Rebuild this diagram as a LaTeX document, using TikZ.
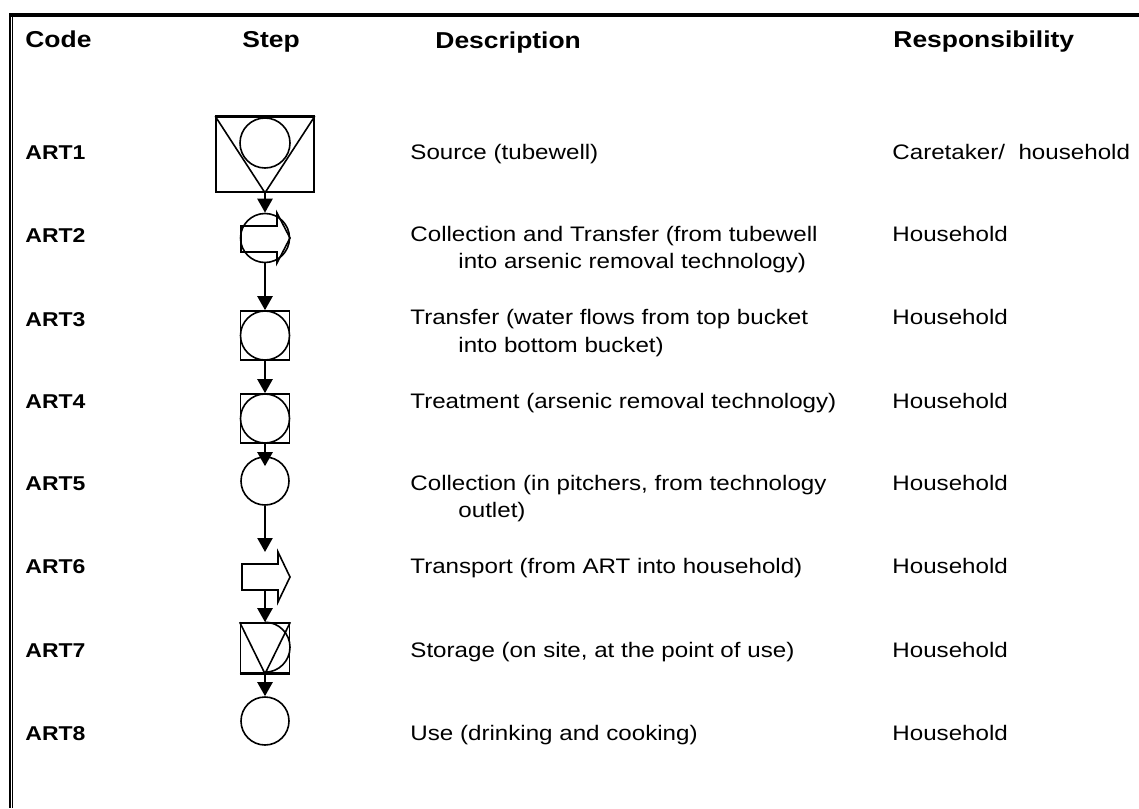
\documentclass[tikz,border=0pt]{standalone}
\usepackage{fontspec}
\setmainfont{Liberation Sans}[FakeStretch=1.15]
\usetikzlibrary{arrows.meta}

\begin{document}
\begin{tikzpicture}[x=0.5pt, y=-0.5pt,
    txt/.style={anchor=base west, inner sep=0pt, font=\fontsize{10.5}{13}\selectfont},
    head/.style={txt, font=\fontsize{11.5}{14}\selectfont\bfseries},
    code/.style={txt, font=\fontsize{10}{12}\selectfont\bfseries},
    ring/.style={draw, circle, inner sep=0pt, minimum size=#1, line width=0.8pt},
    ring/.default=24pt,
    box/.style={draw, rectangle, inner sep=0pt, minimum width=24.5pt, minimum height=24.5pt, line width=0.8pt},
    flow/.style={-{Triangle[length=7pt, width=7.5pt]}, line width=1.2pt}]
    \useasboundingbox (0,0) rectangle (1139,808);
    % frame
    \draw[line width=1.7pt] (9,15) -- (1139,15);
    \draw[line width=0.8pt] (10.2,14) -- (10.2,808);
    \draw[line width=0.5pt] (12.6,16) -- (12.6,808);
    % headings
    \node[head] (hcode) at (25,48) {Code};
    \node[head] (hstep) at (242,48) {Step};
    \node[head] (hdesc) at (435,49) {Description};
    \node[head] (hresp) at (893,48) {Responsibility};
    % steps
    \node[draw, rectangle, inner sep=0pt, minimum width=49pt, minimum height=37.5pt, line width=0.8pt] (s1) at (265,154.5) {};
    \draw[line width=1.2pt] (s1.north west) -- (s1.north east);
    \draw[line width=0.8pt] (s1.north west) -- (s1.south) -- (s1.north east);
    \node[ring=25pt] (s1c) at (265,143) {};
    \node[ring=24.5pt] (s2) at (265,238) {};
    \draw[line width=0.8pt] (241,226) -- (277,226) -- (277,213) -- (290,238) -- (277,263) -- (277,252) -- (241,252) -- cycle;
    \node[box] (s3) at (265,335.5) {};
    \node[ring=24.5pt] (s3c) at (s3) {};
    \node[box] (s4) at (265,418.5) {};
    \node[ring=24.5pt] (s4c) at (s4) {};
    \node[ring] (s5) at (265,481) {};
    \draw[line width=0.8pt] (242,564) -- (278,564) -- (278,552) -- (290,577) -- (278,602) -- (278,590) -- (242,590) -- cycle;
    \coordinate (s6top) at (265,552);
    \coordinate (s6bot) at (265,590);
    \node[box, minimum height=25pt] (s7) at (265,648) {};
    \draw[line width=1.2pt] (s7.south west) -- (s7.south east);
    \draw[line width=0.8pt] (s7.north west) -- (s7.south) -- (s7.north east);
    \draw[line width=0.8pt] (s7.north) arc[start angle=90, end angle=-90, radius=12.5pt];
    \node[ring] (s8) at (265,721) {};
    % flow
    \draw[flow] (s1.south) -- (s2.north);
    \draw[flow] (s2.south) -- (s3.north);
    \draw[flow] (s3.south) -- (s4.north);
    \draw[flow, shorten >=-5pt] (s4.south) -- (s5.north);
    \draw[flow] (s5.south) -- (s6top);
    \draw[flow] (s6bot) -- (s7.north);
    \draw[flow] (s7.south) -- (s8.north);
    % codes
    \node[code] (c1) at (25,159) {ART1};
    \node[code] (c2) at (25,242) {ART2};
    \node[code] (c3) at (25,326) {ART3};
    \node[code] (c4) at (25,408) {ART4};
    \node[code] (c5) at (25,490) {ART5};
    \node[code] (c6) at (25,573) {ART6};
    \node[code] (c7) at (25,657) {ART7};
    \node[code] (c8) at (25,740) {ART8};
    % descriptions
    \node[txt] (d1) at (410,159) {Source (tubewell)};
    \node[txt] (d2) at (410,241) {Collection and Transfer (from tubewell};
    \node[txt] (d2b) at (458,268) {into arsenic removal technology)};
    \node[txt] (d3) at (410,324) {Transfer (water flows from top bucket};
    \node[txt] (d3b) at (458,352) {into bottom bucket)};
    \node[txt] (d4) at (410,408) {Treatment (arsenic removal technology)};
    \node[txt] (d5) at (410,490) {Collection (in pitchers, from technology};
    \node[txt] (d5b) at (458,517) {outlet)};
    \node[txt] (d6) at (410,573) {Transport (from ART into household)};
    \node[txt] (d7) at (410,657) {Storage (on site, at the point of use)};
    \node[txt] (d8) at (410,740) {Use (drinking and cooking)};
    % responsibility
    \node[txt] (r1) at (892,159) {Caretaker/\ \ household};
    \node[txt] (r2) at (892,241) {Household};
    \node[txt] (r3) at (892,324) {Household};
    \node[txt] (r4) at (892,408) {Household};
    \node[txt] (r5) at (892,490) {Household};
    \node[txt] (r6) at (892,573) {Household};
    \node[txt] (r7) at (892,657) {Household};
    \node[txt] (r8) at (892,740) {Household};
\end{tikzpicture}
\end{document}
